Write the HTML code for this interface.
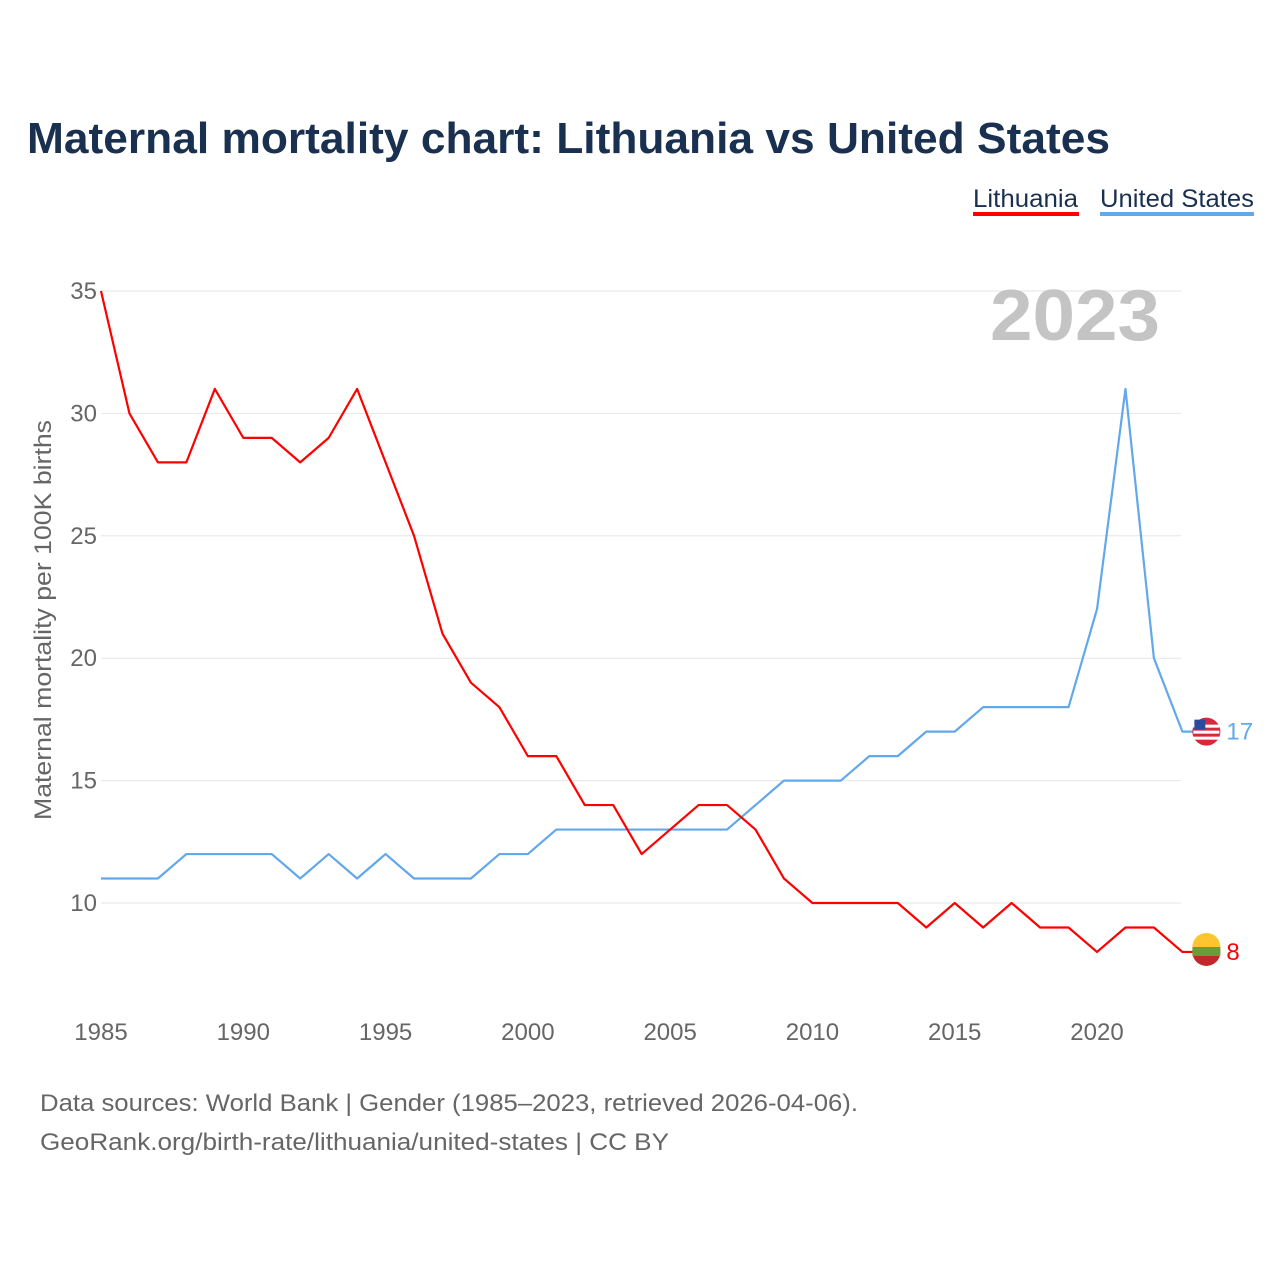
<!DOCTYPE html>
<html><head><meta charset="utf-8"><style>
body{margin:0;background:#fff;font-family:"Liberation Sans",sans-serif}
svg text{font-family:"Liberation Sans",sans-serif}
</style></head><body>
<svg width="1280" height="1280" viewBox="0 0 1280 1280">
<text x="27" y="153" font-size="44" font-weight="bold" fill="#1a3050" textLength="1083" lengthAdjust="spacingAndGlyphs">Maternal mortality chart: Lithuania vs United States</text>
<g>
<text x="973" y="207" font-size="25" fill="#1a3050" textLength="105" lengthAdjust="spacingAndGlyphs">Lithuania</text>
<rect x="973" y="212" width="106" height="4" fill="#ff0000"/>
<text x="1100" y="207" font-size="25" fill="#1a3050" textLength="154" lengthAdjust="spacingAndGlyphs">United States</text>
<rect x="1100" y="212" width="154" height="4" fill="#62a8ea"/>
</g>
<g id="grid"></g><g id="yt"></g><g id="xt"></g>
<text x="990" y="340" font-size="72" font-weight="bold" fill="#c4c4c4" textLength="170" lengthAdjust="spacingAndGlyphs">2023</text>
<text transform="translate(51,620) rotate(-90)" font-size="24" fill="#666" text-anchor="middle" textLength="400" lengthAdjust="spacingAndGlyphs">Maternal mortality per 100K births</text>
<g id="lines"></g>
<text x="40" y="1111" font-size="24" fill="#666" textLength="818" lengthAdjust="spacingAndGlyphs">Data sources: World Bank | Gender (1985–2023, retrieved 2026-04-06).</text>
<text x="40" y="1150" font-size="24" fill="#666" textLength="629" lengthAdjust="spacingAndGlyphs">GeoRank.org/birth-rate/lithuania/united-states | CC BY</text>
</svg>
<script>
const years=[];for(let y=1985;y<=2023;y++)years.push(y);
const lithuania=[35,30,28,28,31,29,29,28,29,31,28,25,21,19,18,16,16,14,14,12,13,14,14,13,11,10,10,10,10,9,10,9,10,9,9,8,9,9,8];
const unitedStates=[11,11,11,12,12,12,12,11,12,11,12,11,11,11,12,12,13,13,13,13,13,13,13,14,15,15,15,16,16,17,17,18,18,18,18,22,31,20,17];
const yTicks=[10,15,20,25,30,35];
const xTicks=[1985,1990,1995,2000,2005,2010,2015,2020];
const NS='http://www.w3.org/2000/svg';
const X=v=>101+(v-1985)*(996/35);
const Y=v=>903-(v-10)*(612/25);
function mk(t,a,p){const e=document.createElementNS(NS,t);for(const k in a)e.setAttribute(k,a[k]);document.getElementById(p).appendChild(e);return e;}
yTicks.forEach(v=>{
 const l=mk('line',{x1:101,x2:1181,y1:Y(v),y2:Y(v),stroke:'#e6e6e6','stroke-width':1},'grid');
 
 
 const t=mk('text',{x:97,y:Y(v)+8,'font-size':24,fill:'#666','text-anchor':'end'},'yt');t.textContent=v;
 
 
});
xTicks.forEach(v=>{
 const t=mk('text',{x:X(v),y:1040,'font-size':24,fill:'#666','text-anchor':'middle'},'xt');t.textContent=v;
 
 
});
function series(vals,color,name){
 const pts=vals.map((v,i)=>X(years[i])+','+Y(v));
 const last=vals[vals.length-1];
 pts.push((X(2023)+24)+','+Y(last));
 const p=mk('polyline',{points:pts.join(' '),fill:'none',stroke:color,'stroke-width':2.2,'stroke-linejoin':'round'},'lines');
 
 
 const c=mk('circle',{cx:X(2023)+24,cy:Y(last),r:14,fill:color},'lines');
 
 
 const t=mk('text',{x:X(2023)+44,y:Y(last)+8,'font-size':24,fill:color},'lines');t.textContent=last;
 
 
 return c;
}
series(unitedStates,'#62a8ea','united-states').setAttribute('fill','#d8283c');
const lc=series(lithuania,'#ff0000','lithuania');
lc.setAttribute('fill','#c1272d');
const lg=mk('rect',{x:X(2023)+10,y:Y(8)-5,width:28,height:9,fill:'#6a9d3a'},'lines');


const ly=mk('path',{d:`M${X(2023)+10},${Y(8)-5} a14,14 0 0 1 28,0 z`,fill:'#fdc52f'},'lines');


for(let i=0;i<3;i++){const s=mk('rect',{x:X(2023)+11,y:Y(17)-7+i*6,width:26,height:3,fill:'#fff'},'lines');
 
 }
const cn=mk('rect',{x:X(2023)+12,y:Y(17)-12,width:11,height:10,fill:'#2b4a9b'},'lines');


</script>
</body></html>
